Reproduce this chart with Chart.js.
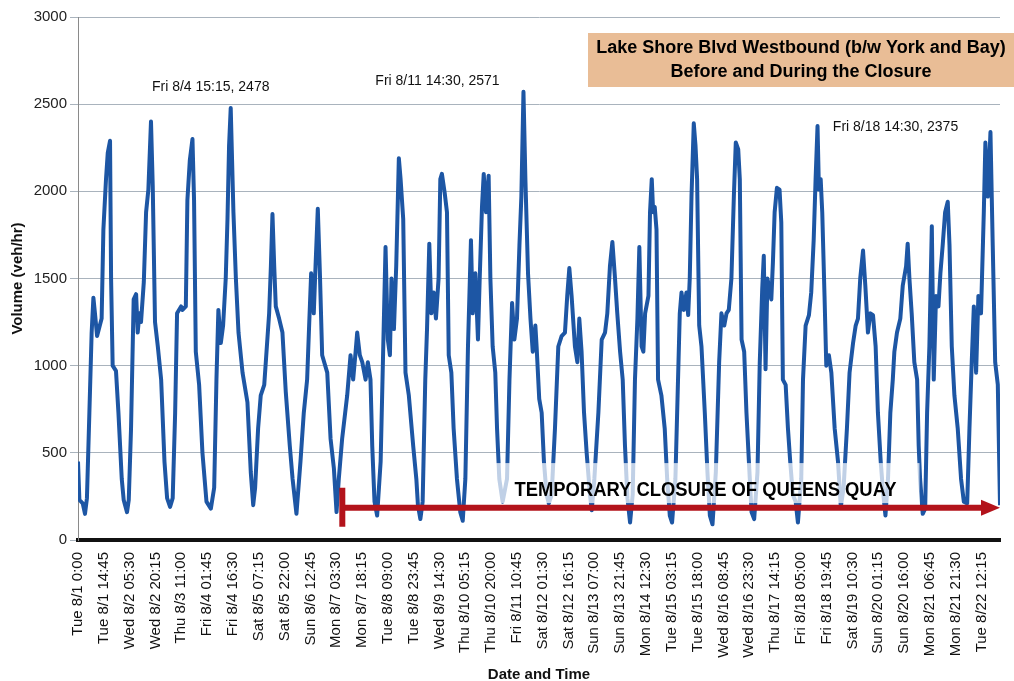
<!DOCTYPE html>
<html lang="en">
<head>
  <meta charset="UTF-8">
  <title>Lake Shore Blvd Westbound - Before and During the Closure</title>
  <script src="https://cdn.jsdelivr.net/npm/chart.js"></script>
  <style>
    html, body { margin: 0; padding: 0; background: #fff; }
    .chart-container { width: 1014px; height: 681px; }
  </style>
</head>
<body>
  <div class="chart-container">
    <canvas id="volumeChart" width="1014" height="681"></canvas>
  </div>

  <script>
    // hours since Tue 8/1 0:00 (one row per day)
    const hours = [
      0, 0.8, 2.7, 4.0, 5.1, 6.5, 7.8, 8.8, 9.7, 10.9, 12.2, 13.5, 14.5, 16.0, 17.0, 18.3, 18.9, 19.8, 21.7, 23.1,
      25.0, 26.1, 28.0, 29.0, 30.3, 31.8, 33.2, 34.1, 35.1, 36.0, 37.6, 38.9, 40.2, 41.7, 42.7, 44.0, 45.6, 47.5,
      49.4, 50.9, 52.6, 54.1, 55.5, 56.6, 58.9, 59.7, 61.6, 62.5, 63.9, 65.4, 66.3, 67.3, 69.2, 71.1,
      73.4, 75.9, 77.8, 79.1, 80.2, 81.6, 82.9, 84.4, 85.4, 86.3, 87.25, 88.8, 90.2, 91.7, 94.0,
      96.8, 98.7, 100.1, 101.2, 102.9, 104.4, 106.4, 107.7, 109.2, 110.2, 111.1, 112.1, 113.0, 114.9, 116.8, 118.7,
      121.0, 122.6, 124.8, 127.1, 129.0, 130.9, 131.9, 133.2, 134.7, 135.7, 137.0, 138.2, 139.5, 142.4,
      144.3, 146.2, 147.7, 149.0, 150.9, 153.8, 155.7, 157.2, 158.6, 159.5, 161.0, 162.4, 164.3, 165.6, 167.1,
      168.1, 169.4, 170.9, 172.9, 174.4, 175.7, 177.0, 178.2, 179.1, 180.5, 181.8, 183.3, 184.3, 185.8, 187.1, 189.0, 191.5,
      193.3, 194.2, 195.6, 196.9, 198.4, 199.4, 200.7, 201.9, 203.2, 204.5, 206.0, 207.0, 207.9, 209.5, 210.8, 211.8, 213.3, 214.6,
      216.5, 218.4, 219.8, 221.3, 222.8, 224.5, 225.5, 227.0, 228.5, 229.5, 230.8, 231.8, 233.1, 234.6, 235.6, 236.9, 238.4, 239.4,
      240.7, 242.6, 245.1, 246.5, 248.0, 249.3, 250.8, 252.2, 253.3, 254.5, 255.6, 257.1, 258.5, 259.8, 261.3, 262.0, 263.5,
      264.9, 266.2, 267.7, 269.0, 270.6, 272.5, 274.4, 276.3, 278.2, 279.5, 280.7, 282.0, 283.9, 285.3, 286.4, 287.7,
      289.1, 290.6, 292.5, 293.5, 295.0, 297.3, 299.2, 301.1, 302.4, 303.9, 305.3, 306.8, 308.1, 309.7, 311.2,
      312.5, 313.9, 315.4, 316.9, 318.2, 319.6, 320.7, 322.0, 323.0, 324.0, 325.9, 326.8, 327.8, 328.6, 329.5, 330.5, 331.4, 333.3, 335.2,
      336.6, 338.1, 339.4, 341.3, 342.8, 343.8, 344.8, 346.1, 347.6, 348.6, 349.5, 350.5, 351.8, 352.8, 353.7, 354.9, 356.2, 358.1, 359.6,
      361.0, 362.5, 364.4, 366.3, 367.6, 369.2, 370.5, 371.8, 373.3, 374.7, 375.8, 377.2, 378.1, 379.1, 380.6, 381.9, 383.3,
      384.8, 386.3, 388.2, 389.5, 390.9, 391.8, 392.8, 393.9, 395.3, 396.1, 397.0, 398.0, 399.3, 400.8, 401.8, 402.7, 404.3, 405.6, 406.9,
      408.4, 410.0, 411.3, 413.2, 414.2, 415.7, 417.6, 418.9, 420.3, 421.4, 422.5, 423.3, 424.3, 425.2, 426.5, 427.5, 429.0, 430.4,
      432.3, 434.2, 435.8, 437.4, 439.3, 440.8, 442.8, 444.3, 445.6, 446.9, 448.5, 449.8, 451.3, 452.7, 454.2, 455.7,
      457.0, 458.6, 459.9, 461.3, 462.8, 464.1, 465.5, 466.4, 467.9, 469.8, 471.2, 473.1, 474.0, 475.0, 476.3, 477.8, 479.4,
      480.3, 481.1, 482.6, 484.0, 485.1, 486.4, 487.8, 488.9, 490.2, 491.6, 492.7, 494.0, 495.4, 496.9, 497.9, 499.2, 500.7, 502.6,
      504.5, 506.1, 508.0, 509.3, 510.6, 511.8, 513.1, 514.4, 515.9, 517.5, 518.4, 519.8, 521.3, 522.6, 524.0, 525.5, 526.75
    ];

    // volume (veh/hr) at those times
    const volume = [
      450, 230, 210, 150, 240, 730, 1190, 1390, 1300, 1170, 1220, 1270, 1780, 2070, 2220, 2290, 1500, 1000, 970, 730,
      350, 230, 160, 230, 640, 1380, 1410, 1190, 1300, 1250, 1480, 1880, 2010, 2400, 2030, 1250, 1110, 920,
      450, 240, 190, 240, 730, 1300, 1340, 1320, 1340, 1950, 2180, 2300, 1950, 1080, 890, 500,
      220, 180, 300, 920, 1320, 1130, 1230, 1500, 1840, 2260, 2478, 1880, 1500, 1190, 960,
      790, 390, 200, 300, 640, 830, 890, 1080, 1300, 1570, 1870, 1570, 1340, 1270, 1190, 850,
      540, 350, 150, 450, 730, 920, 1190, 1530, 1300, 1570, 1900, 1530, 1060, 960,
      580, 410, 160, 350, 580, 830, 1060, 920, 1080, 1190, 1060, 1020, 920, 1020, 920,
      540, 220, 140, 450, 1110, 1680, 1150, 1060, 1500, 1210, 1570, 2190, 2070, 1840, 960, 830, 540,
      350, 200, 120, 220, 920, 1210, 1700, 1300, 1420, 1270, 1500, 2070, 2100, 1990, 1880, 1060, 960, 640,
      350, 160, 110, 350, 1110, 1720, 1300, 1530, 1150, 1500, 1910, 2100, 1880, 2090, 1500, 1110, 960, 640,
      350, 220, 350, 920, 1360, 1150, 1270, 1690, 1970, 2571, 2070, 1530, 1270, 1080, 1230, 1110, 810,
      730, 450, 260, 210, 260, 640, 1110, 1170, 1190, 1400, 1560, 1400, 1110, 1020, 1270, 1080,
      730, 500, 260, 170, 350, 730, 1150, 1190, 1300, 1570, 1710, 1500, 1300, 1080, 920,
      540, 240, 100, 260, 920, 1270, 1680, 1110, 1080, 1300, 1400, 1880, 2070, 1880, 1910, 1780, 920, 830, 640,
      350, 140, 100, 350, 920, 1300, 1420, 1320, 1420, 1290, 1500, 1970, 2390, 2260, 2070, 1230, 1110, 730, 390,
      140, 90, 390, 1020, 1300, 1230, 1300, 1320, 1500, 1970, 2280, 2240, 2070, 1150, 1080, 730, 450,
      160, 120, 390, 1020, 1440, 1630, 980, 1500, 1420, 1380, 1590, 1880, 2020, 2010, 1820, 920, 890, 640, 450,
      260, 220, 100, 350, 920, 1230, 1290, 1420, 1720, 2070, 2375, 2010, 2070, 1880, 1400, 1000, 1060, 960,
      640, 450, 190, 300, 640, 960, 1130, 1230, 1270, 1500, 1660, 1460, 1190, 1300, 1290, 1110,
      730, 450, 280, 140, 360, 730, 920, 1080, 1190, 1270, 1460, 1570, 1700, 1500, 1300, 1020, 920,
      540, 350, 150, 180, 730, 1110, 1800, 920, 1400, 1340, 1530, 1690, 1880, 1940, 1690, 1110, 830, 640,
      350, 220, 210, 640, 1020, 1340, 960, 1400, 1300, 1880, 2280, 1970, 2340, 1690, 1020, 890, 200
    ];

    // category labels every 59 intervals of 15 min (14.75 h)
    const tickLabels = [
      'Tue 8/1 0:00', 'Tue 8/1 14:45', 'Wed 8/2 05:30', 'Wed 8/2 20:15', 'Thu 8/3 11:00', 'Fri 8/4 01:45',
      'Fri 8/4 16:30', 'Sat 8/5 07:15', 'Sat 8/5 22:00', 'Sun 8/6 12:45', 'Mon 8/7 03:30', 'Mon 8/7 18:15',
      'Tue 8/8 09:00', 'Tue 8/8 23:45', 'Wed 8/9 14:30', 'Thu 8/10 05:15', 'Thu 8/10 20:00', 'Fri 8/11 10:45',
      'Sat 8/12 01:30', 'Sat 8/12 16:15', 'Sun 8/13 07:00', 'Sun 8/13 21:45', 'Mon 8/14 12:30', 'Tue 8/15 03:15',
      'Tue 8/15 18:00', 'Wed 8/16 08:45', 'Wed 8/16 23:30', 'Thu 8/17 14:15', 'Fri 8/18 05:00', 'Fri 8/18 19:45',
      'Sat 8/19 10:30', 'Sun 8/20 01:15', 'Sun 8/20 16:00', 'Mon 8/21 06:45', 'Mon 8/21 21:30', 'Tue 8/22 12:15'
    ];
    const tickStep = 14.75;
    const lastHour = 526.75;

    // peak call-outs
    const peakHours = [87.25, 254.5, 422.5];
    const peakValues = [2478, 2571, 2375];
    const peakLabels = ['Fri 8/4 15:15, 2478', 'Fri 8/11 14:30, 2571', 'Fri 8/18 14:30, 2375'];
    const peakOffsets = [[-20, -21], [-86, -11], [78, 1]];

    // closure arrow
    const closureStart = 151;
    const closureLevel = 185;
    const closureText = 'TEMPORARY CLOSURE OF QUEENS QUAY';
    const closureTextAt = [358.5, 292];

    const titleLines = ['Lake Shore Blvd Westbound (b/w York and Bay)', 'Before and During the Closure'];

    if (hours.length !== volume.length) console.warn('length mismatch', hours.length, volume.length);

    const FONT = '"Liberation Sans", Arial, sans-serif';
    Chart.defaults.font.family = FONT;
    Chart.defaults.color = '#111';

    const overlay = {
      id: 'overlay',
      afterDatasetsDraw(chart) {
        const { ctx, chartArea, scales: { x, y } } = chart;
        ctx.save();

        // washed-out band behind the closure label
        const tx = x.getPixelForValue(closureTextAt[0]);
        const ty = y.getPixelForValue(closureTextAt[1]);
        ctx.fillStyle = 'rgba(255,255,255,0.72)';
        ctx.fillRect(tx - 210, ty - 26, 424, 40);

        ctx.save();
        ctx.font = 'bold 20px ' + FONT;
        const w = ctx.measureText(closureText).width;
        ctx.translate(tx, ty);
        ctx.scale(382 / w, 1);
        ctx.fillStyle = '#000';
        ctx.textAlign = 'center';
        ctx.textBaseline = 'middle';
        ctx.fillText(closureText, 0, 1);
        ctx.restore();

        // red arrow
        const ax = x.getPixelForValue(closureStart);
        const ay = y.getPixelForValue(closureLevel);
        const ex = chartArea.right;
        ctx.strokeStyle = '#b3131b';
        ctx.fillStyle = '#b3131b';
        ctx.lineWidth = 6;
        ctx.beginPath();
        ctx.moveTo(ax, ay);
        ctx.lineTo(ex - 16, ay);
        ctx.stroke();
        ctx.beginPath();
        ctx.moveTo(ax, ay - 20);
        ctx.lineTo(ax, ay + 19);
        ctx.stroke();
        ctx.beginPath();
        ctx.moveTo(ex - 19, ay - 8);
        ctx.lineTo(ex, ay);
        ctx.lineTo(ex - 19, ay + 8);
        ctx.closePath();
        ctx.fill();

        // peak labels
        ctx.font = '14px ' + FONT;
        ctx.fillStyle = '#111';
        ctx.textAlign = 'center';
        ctx.textBaseline = 'middle';
        peakLabels.forEach((t, i) => {
          const px = x.getPixelForValue(peakHours[i]) + peakOffsets[i][0];
          const py = y.getPixelForValue(peakValues[i]) + peakOffsets[i][1];
          ctx.fillText(t, px, py);
        });

        // title box
        const bw = 426, bh = 54, bx = chart.width - bw, by = 33;
        ctx.fillStyle = '#e9bd96';
        ctx.fillRect(bx, by, bw, bh);
        ctx.fillStyle = '#000';
        ctx.font = 'bold 18px ' + FONT;
        ctx.fillText(titleLines[0], bx + bw / 2, by + 15);
        ctx.fillText(titleLines[1], bx + bw / 2, by + 39);

        ctx.restore();
      }
    };

    const ctx = document.getElementById('volumeChart').getContext('2d');
    new Chart(ctx, {
      type: 'line',
      data: {
        datasets: [{
          data: hours.map((h, i) => ({ x: h, y: volume[i] })),
          borderColor: '#1d56a4',
          borderWidth: 4,
          borderJoinStyle: 'round',
          pointRadius: 0,
          tension: 0,
          fill: false
        }]
      },
      options: {
        responsive: false,
        animation: false,
        layout: { padding: { top: 17, right: 14, left: 0, bottom: 0 } },
        plugins: { legend: { display: false }, tooltip: { enabled: false } },
        scales: {
          x: {
            type: 'linear',
            min: 0,
            max: lastHour,
            afterBuildTicks: s => { s.ticks = tickLabels.map((_, i) => ({ value: i * tickStep })); },
            afterFit: s => { s.height = 141; },
            ticks: {
              autoSkip: false,
              minRotation: 90,
              maxRotation: 90,
              padding: 12,
              font: { size: 15 },
              color: '#111',
              callback: (v, i) => tickLabels[i]
            },
            grid: { display: false, drawTicks: false },
            border: { display: true, color: '#111', width: 4 },
            title: {
              display: true,
              text: 'Date and Time',
              font: { size: 15, weight: 'bold' },
              color: '#111',
              padding: { top: 0, bottom: -3 }
            }
          },
          y: {
            min: 0,
            max: 3000,
            afterFit: s => { s.width = 78; },
            ticks: { stepSize: 500, font: { size: 15 }, color: '#222', padding: 3, callback: v => String(v) },
            grid: { color: '#a9b3bd', lineWidth: 1, tickLength: 8 },
            border: { color: '#8a8a8a', width: 1 },
            title: {
              display: true,
              text: 'Volume (veh/hr)',
              font: { size: 15, weight: 'bold' },
              color: '#111',
              padding: { top: 9 }
            }
          }
        }
      },
      plugins: [overlay]
    });
  </script>
</body>
</html>
